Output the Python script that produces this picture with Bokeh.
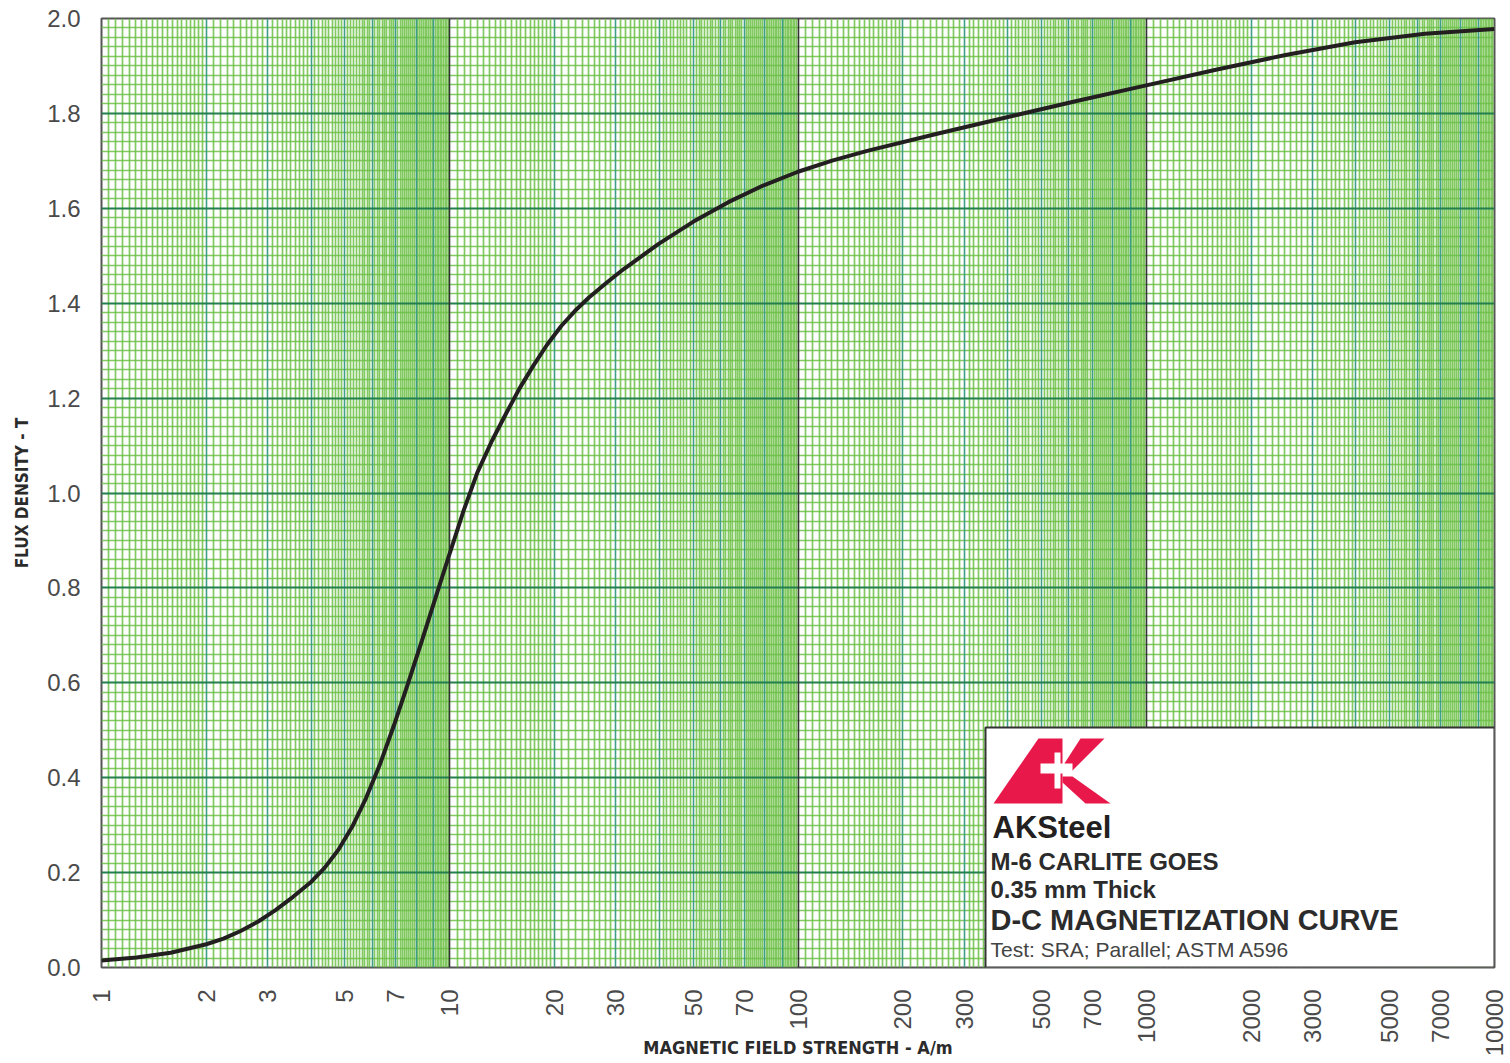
import math
import numpy as np
from bokeh.plotting import figure
from bokeh.models import FixedTicker, Grid, PrintfTickFormatter
from bokeh.core.properties import value
from bokeh.embed import file_html
from bokeh.resources import INLINE

# D-C magnetization curve, M-6 grain oriented electrical steel
field_h = [1, 1.26, 1.58, 2.0, 2.24, 2.51, 2.82, 3.16, 3.55, 3.98, 4.37, 4.79, 5.25,
           5.75, 6.31, 6.92, 7.59, 8.32, 9.12, 10.0, 10.96, 12.0, 13.2, 14.5, 15.85,
           17.4, 19.05, 20.9, 22.9, 25.1, 28.2, 31.6, 39.8, 50.1, 63.1, 79.4, 100,
           126, 158, 251, 398, 631, 1000, 1585, 2512, 3981, 6310, 10000]
flux_b = [0.015, 0.021, 0.031, 0.049, 0.061, 0.077, 0.097, 0.121, 0.149, 0.179, 0.210,
          0.248, 0.297, 0.357, 0.429, 0.511, 0.599, 0.689, 0.781, 0.873, 0.963, 1.043,
          1.109, 1.167, 1.220, 1.269, 1.313, 1.352, 1.384, 1.412, 1.443, 1.472, 1.525,
          1.572, 1.613, 1.648, 1.677, 1.701, 1.721, 1.757, 1.792, 1.826, 1.859, 1.892,
          1.923, 1.950, 1.968, 1.978]

x_tick_values = [1, 2, 3, 5, 7, 10, 20, 30, 50, 70, 100, 200, 300, 500, 700,
                 1000, 2000, 3000, 5000, 7000, 10000]
y_tick_values = [0.0, 0.2, 0.4, 0.6, 0.8, 1.0, 1.2, 1.4, 1.6, 1.8, 2.0]

brand = "AKSteel"
info_lines = ["M-6 CARLITE GOES", "0.35 mm Thick", "D-C MAGNETIZATION CURVE",
              "Test: SRA; Parallel; ASTM A596"]

# frame geometry (pixels)
W, H = 1510, 1063
FL, FR, FT, FB = 101, 1494, 18, 967
X_MIN, X_MAX = 1, 10000
Y_MIN, Y_MAX = 0.0, 2.0
px_per_decade = (FR - FL) / math.log10(X_MAX / X_MIN)
px_per_unit = (FB - FT) / (Y_MAX - Y_MIN)


def px2x(px):
    return X_MIN * 10 ** ((px - FL) / px_per_decade)


def py2y(py):
    return Y_MIN + (FB - py) / px_per_unit


p = figure(width=W, height=H, x_axis_type="log", x_range=(X_MIN, X_MAX),
           y_range=(Y_MIN, Y_MAX), output_backend="svg", toolbar_location=None,
           min_border_left=FL, min_border_right=W - FR, min_border_top=FT,
           min_border_bottom=H - FB)
p.background_fill_color = "white"
p.border_fill_color = "white"
p.outline_line_color = "#555555"
p.outline_line_width = 2
p.xgrid.visible = False
p.ygrid.visible = False

# log graph-paper rulings
decades = [1, 10, 100, 1000]
minor_x = []
for d in decades:
    for m in np.round(np.arange(1.05, 2.0, 0.05), 2):
        minor_x.append(m * d)
    for m in np.round(np.arange(2.1, 10.0, 0.1), 1):
        if abs(m - round(m)) > 1e-6:
            minor_x.append(m * d)
unit_x = [m * d for d in decades for m in range(2, 10)]
decade_x = [10, 100, 1000]
minor_y = [round(v, 2) for v in np.arange(0.02, 2.0, 0.02) if abs(v / 0.2 - round(v / 0.2)) > 1e-6]
major_y = y_tick_values[1:-1]

GREEN = "#6cbf47"
for dim, ticks, color, width, alpha in [
    (0, minor_x, GREEN, 1.7, 0.85),
    (1, minor_y, GREEN, 1.7, 0.85),
    (0, unit_x, "#3f9e86", 1.6, 1.0),
    (1, major_y, "#237f4d", 2.0, 1.0),
    (0, decade_x, "#333333", 1.6, 1.0),
]:
    g = Grid(dimension=dim, ticker=FixedTicker(ticks=ticks), grid_line_color=color,
             grid_line_width=width, grid_line_alpha=alpha)
    p.add_layout(g)

# axes
LABEL_FONT = "Liberation Sans"
for ax in (p.xaxis[0], p.yaxis[0]):
    ax.major_tick_line_color = None
    ax.minor_tick_line_color = None
    ax.axis_line_color = None
    ax.major_label_text_font = LABEL_FONT
    ax.major_label_text_font_size = "24px"
    ax.major_label_text_color = "#4a4a4a"
    ax.axis_label_text_font = "DejaVu Sans Condensed"
    ax.axis_label_text_font_style = "bold"
    ax.axis_label_text_color = "#2b2b2b"

p.xaxis.ticker = FixedTicker(ticks=x_tick_values)
p.xaxis.formatter = PrintfTickFormatter(format="%d")
p.xaxis.major_label_orientation = math.pi / 2
p.xaxis.major_label_standoff = 16
p.xaxis.axis_label = "MAGNETIC FIELD STRENGTH - A/m"
p.xaxis.axis_label_text_font_size = "18px"
p.xaxis.axis_label_standoff = -22

p.yaxis.ticker = FixedTicker(ticks=y_tick_values)
p.yaxis.formatter = PrintfTickFormatter(format="%.1f")
p.yaxis.major_label_standoff = 15
p.yaxis.axis_label = "FLUX DENSITY - T"
p.yaxis.axis_label_text_font_size = "17px"
p.yaxis.axis_label_standoff = 12

# magnetization curve
p.line(field_h, flux_b, line_color="#231f20", line_width=4)

# title block
p.quad(left=[px2x(985)], right=[X_MAX], bottom=[Y_MIN], top=[py2y(727)],
       fill_color="white", line_color="#333333", line_width=2)

RED = "#e8184a"
logo_xs = [
    [px2x(v) for v in (1038, 1062, 1062, 993)],
    [px2x(v) for v in (1080, 1104, 1070, 1062, 1062)],
    [px2x(v) for v in (1062, 1072, 1110, 1085, 1062)],
]
logo_ys = [
    [py2y(v) for v in (738, 738, 803, 803)],
    [py2y(v) for v in (738, 738, 772, 772, 766)],
    [py2y(v) for v in (776, 776, 803, 803, 782)],
]
p.patches(logo_xs, logo_ys, fill_color=RED, line_color=None)
# white cross in the logo
p.quad(left=[px2x(1040), px2x(1054)], right=[px2x(1072), px2x(1060)],
       bottom=[py2y(773), py2y(788)], top=[py2y(763), py2y(752)],
       fill_color="white", line_color=None)

p.text(x=[px2x(992)], y=[py2y(827)], text=[brand], text_font=value("Liberation Sans"),
       text_font_style="bold", text_font_size="31px", text_color="#231f20",
       text_baseline="middle", text_align="left")

info_y = [py2y(v) for v in (861, 889, 919, 949)]
info_size = ["24px", "24px", "29px", "21px"]
info_style = ["bold", "bold", "bold", "normal"]
info_color = ["#2b2b2b", "#2b2b2b", "#2b2b2b", "#444444"]
for t, yy, sz, st, c in zip(info_lines, info_y, info_size, info_style, info_color):
    p.text(x=[px2x(990)], y=[yy], text=[t], text_font=value("Liberation Sans"),
           text_font_style=st, text_font_size=sz, text_color=c,
           text_baseline="middle", text_align="left")

open("out.html", "w").write(file_html(p, INLINE))
